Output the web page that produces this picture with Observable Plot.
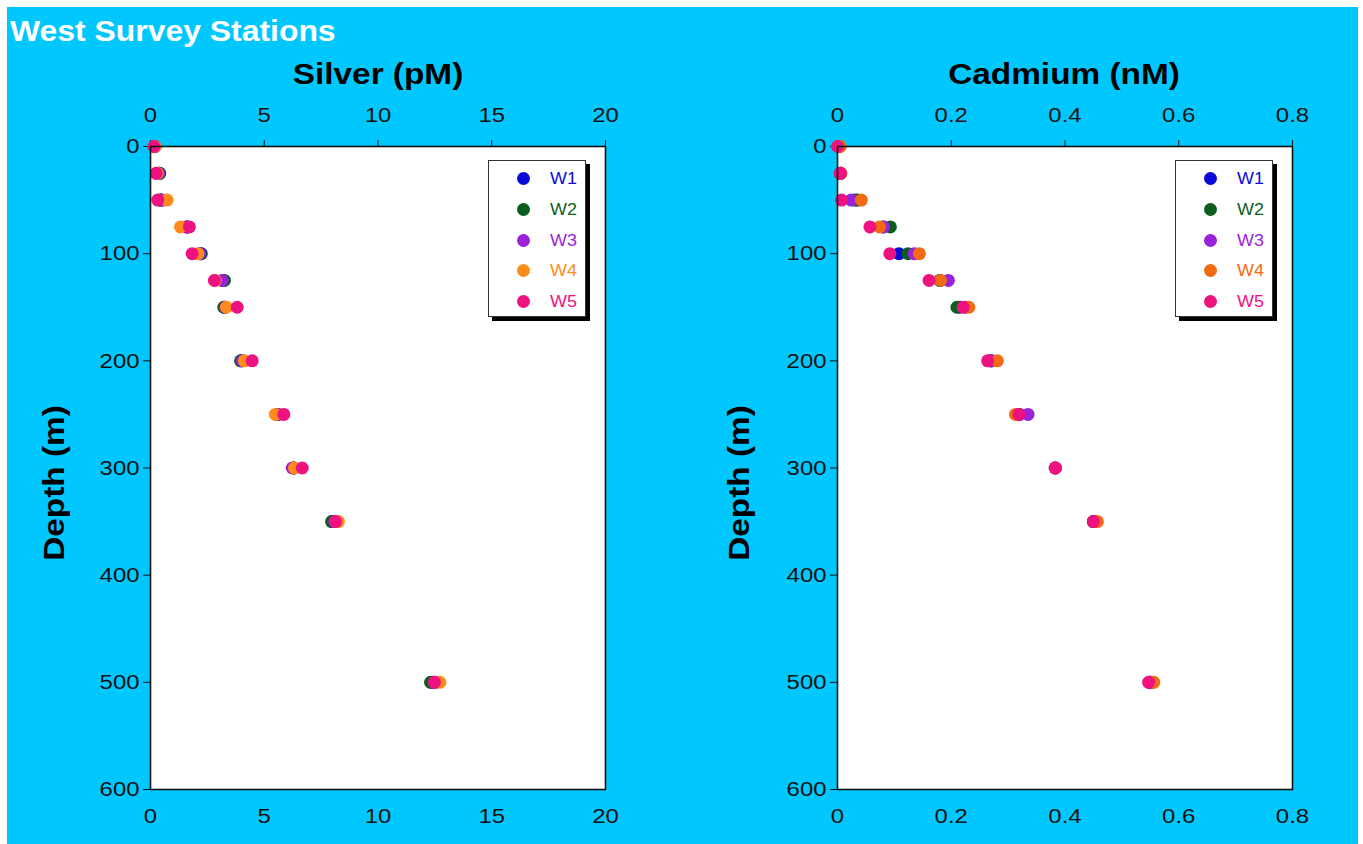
<!DOCTYPE html>
<html><head><meta charset="utf-8">
<script src="https://cdn.jsdelivr.net/npm/d3@7"></script>
<script src="https://cdn.jsdelivr.net/npm/@observablehq/plot@0.6"></script>
<style>
body{margin:0;background:#fff;font-family:"Liberation Sans",Arial,sans-serif;}
#page{position:relative;width:1363px;height:844px;overflow:hidden;}
#bg{position:absolute;left:7px;top:7px;width:1351px;height:837px;background:#00C8FF;}
#title{position:absolute;left:10px;top:17px;color:#fff;font-weight:bold;font-size:29px;line-height:1;transform:scaleX(1.1);transform-origin:left center;white-space:nowrap;}
.xt{position:absolute;font-weight:bold;font-size:29px;line-height:1;color:#000;white-space:nowrap;transform:translateX(-50%) scaleX(1.15);}
.yt{position:absolute;font-weight:bold;font-size:29px;line-height:1;color:#000;white-space:nowrap;transform:translate(-50%,-50%) rotate(-90deg) scaleX(1.15);}
.panel{position:absolute;top:0;}
.legend{position:absolute;box-sizing:border-box;background:#fff;border:1.5px solid #333;box-shadow:4px 4px 0 #000;width:98px;height:157px;}
.li{position:absolute;left:0;width:100%;height:20px;}
.li .d{position:absolute;left:28px;top:3px;width:13px;height:13px;border-radius:50%;}
.li .t{position:absolute;left:61px;top:1px;font-size:16px;line-height:17px;transform:scaleX(1.12);transform-origin:left center;}
</style>
</head><body>
<div id="page">
  <div id="bg"></div>
  <div id="title">West Survey Stations</div>
</div>
<script>
const depths = [0, 25, 50, 75, 100, 125, 150, 200, 250, 300, 350, 500];
const stations = ["W1", "W2", "W3", "W4", "W5"];
const silverColors = ["#0a0ad8", "#0b5e1e", "#9a22d8", "#ff8c1a", "#ee1180"];
const cadmiumColors = ["#0a0ad8", "#0b5e1e", "#9a22d8", "#f26b12", "#ee1180"];

const silverW1 = [0.2, 0.4, 0.45, 1.6, 2.23, 3.2, 3.25, 4.0, 5.6, 6.3, 8.0, 12.4];
const silverW2 = [0.2, 0.4, 0.45, 1.6, 2.2, 3.25, 3.22, 3.96, 5.55, 6.3, 7.96, 12.31];
const silverW3 = [0.2, 0.35, 0.5, 1.6, 2.15, 3.15, 3.3, 4.04, 5.6, 6.23, 8.1, 12.5];
const silverW4 = [0.2, 0.3, 0.73, 1.32, 2.08, 2.85, 3.34, 4.13, 5.49, 6.33, 8.26, 12.72];
const silverW5 = [0.15, 0.25, 0.32, 1.71, 1.83, 2.81, 3.81, 4.47, 5.86, 6.67, 8.13, 12.48];

const cadmiumW1 = [0.003, 0.005, 0.035, 0.08, 0.108, 0.18, 0.215, 0.27, 0.32, 0.383, 0.45, 0.55];
const cadmiumW2 = [0.003, 0.005, 0.03, 0.093, 0.124, 0.18, 0.21, 0.27, 0.318, 0.383, 0.45, 0.55];
const cadmiumW3 = [0.003, 0.005, 0.024, 0.081, 0.135, 0.195, 0.225, 0.27, 0.335, 0.383, 0.452, 0.55];
const cadmiumW4 = [0.005, 0.006, 0.042, 0.074, 0.144, 0.181, 0.231, 0.281, 0.313, 0.383, 0.457, 0.556];
const cadmiumW5 = [0.0, 0.005, 0.007, 0.057, 0.092, 0.161, 0.221, 0.264, 0.319, 0.383, 0.45, 0.547];

const silverTicks = [0, 5, 10, 15, 20];
const cadmiumTicks = [0, 0.2, 0.4, 0.6, 0.8];
const depthTicks = [0, 100, 200, 300, 400, 500, 600];

function table(series) {
  const rows = [];
  stations.forEach((s, k) => depths.forEach((d, i) => rows.push({station: s, depth: d, value: series[k][i]})));
  return rows;
}

function stretchText(svg) {
  svg.querySelectorAll("g[aria-label$='tick label'] text, g[aria-label^='x-axis'] text, g[aria-label^='y-axis'] text").forEach(t => {
    const tr = t.getAttribute("transform") || "";
    if (!tr.includes("scale")) t.setAttribute("transform", (tr + " scale(1.14,1)").trim());
  });
}

function panel(series, domain, ticks, fmt, colors) {
  const axisStyle = {color: "#111", fontSize: 21};
  const svg = Plot.plot({
    width: 680, height: 844,
    marginLeft: 150, marginRight: 75, marginTop: 146, marginBottom: 55,
    style: {background: "transparent", fontFamily: "'Liberation Sans', Arial, sans-serif", fontSize: "21px", color: "#000"},
    x: {domain},
    y: {domain: [0, 600], reverse: true},
    color: {domain: stations, range: colors},
    marks: [
      Plot.frame({fill: "white"}),
      Plot.axisX({anchor: "top", ticks, tickFormat: fmt, tickSize: 7, tickPadding: 18, label: null, ...axisStyle}),
      Plot.axisX({anchor: "bottom", ticks, tickFormat: fmt, tickSize: 0, tickPadding: 19, label: null, ...axisStyle}),
      Plot.axisY({anchor: "left", ticks: depthTicks, tickSize: 7, tickPadding: 4, label: null, ...axisStyle}),
      Plot.dot(table(series), {x: "value", y: "depth", fill: "station", r: 6.5}),
      Plot.frame({stroke: "#111", strokeWidth: 1.6})
    ]
  });
  stretchText(svg);
  return svg;
}

function legend(left, colors) {
  const box = document.createElement("div");
  box.className = "legend";
  box.style.left = left + "px";
  box.style.top = "160px";
  stations.forEach((s, k) => {
    const it = document.createElement("div");
    it.className = "li";
    it.style.top = (8 + k * 30.8) + "px";
    it.innerHTML = `<div class="d" style="background:${colors[k]}"></div><div class="t" style="color:${colors[k]}">${s}</div>`;
    box.appendChild(it);
  });
  return box;
}

function addText(cls, text, x, y) {
  const el = document.createElement("div");
  el.className = cls;
  el.textContent = text;
  el.style.left = x + "px";
  el.style.top = y + "px";
  document.getElementById("page").appendChild(el);
}

const page = document.getElementById("page");
const p1 = panel([silverW1, silverW2, silverW3, silverW4, silverW5], [0, 20], silverTicks, d => String(d), silverColors);
p1.classList.add("panel"); p1.style.left = "0px";
page.appendChild(p1);
const p2 = panel([cadmiumW1, cadmiumW2, cadmiumW3, cadmiumW4, cadmiumW5], [0, 0.8], cadmiumTicks, d => d === 0 ? "0" : d3.format(".1f")(d), cadmiumColors);
p2.classList.add("panel"); p2.style.left = "687px";
page.appendChild(p2);

page.appendChild(legend(488, silverColors));
page.appendChild(legend(1175, cadmiumColors));

addText("xt", "Silver (pM)", 378, 60);
addText("xt", "Cadmium (nM)", 1064, 60);
addText("yt", "Depth (m)", 54, 483);
addText("yt", "Depth (m)", 739, 483);
</script>
</body></html>
